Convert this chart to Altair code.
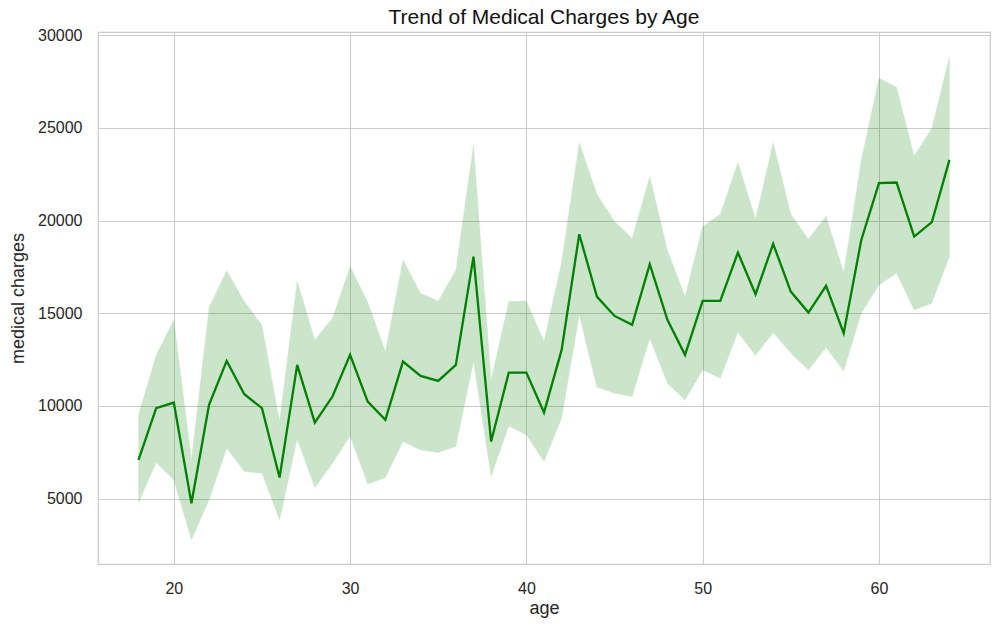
import altair as alt
import pandas as pd

ages = list(range(18, 65))
mean_charges = [7087, 9875, 10178, 4751, 10054, 12427, 10630, 9875, 6132, 12211,
                9100, 10503, 12751, 10232, 9245, 12390, 11618, 11348, 12211, 18053,
                8074, 11796, 11796, 9640, 13020, 19261, 15895, 14854, 14369, 17643,
                14640, 12751, 15663, 15663, 18269, 16025, 18738, 16165, 15032, 16473,
                13921, 18954, 22012, 22050, 19132, 19909, 23269]
ci_low = [4784, 6942, 6008, 2772, 4929, 7718, 6456, 6370, 3850, 8203,
          5594, 6909, 8381, 5776, 6132, 8074, 7626, 7481, 7805, 12390,
          6186, 8921, 8435, 6995, 9336, 14908, 11008, 10685, 10503, 13651,
          11224, 10323, 11942, 11494, 13975, 12713, 13954, 12842, 11942, 13145,
          11888, 15000, 16526, 17158, 15178, 15539, 18053]
ci_high = [9520, 12750, 14640, 7087, 15300, 17300, 15626, 14369, 9153, 16742,
           13560, 14730, 17514, 15600, 12929, 17875, 16079, 15663, 17336, 24078,
           11402, 15626, 15663, 13470, 17767, 24203, 21435, 19941, 19045, 22368,
           18414, 15895, 19671, 20340, 23124, 20070, 24203, 20340, 18991, 20248,
           17190, 23269, 27676, 27190, 23485, 24979, 28841]

df = pd.DataFrame({"age": ages, "charges": mean_charges, "low": ci_low, "high": ci_high})

FONT = "Liberation Sans"

x = alt.X("age:Q", title="age",
          scale=alt.Scale(domain=[15.7, 66.3], nice=False, zero=False),
          axis=alt.Axis(values=[20, 30, 40, 50, 60], format="d"))
y_scale = alt.Scale(domain=[1470, 30170], nice=False, zero=False)

band = alt.Chart(df).mark_area(color="green", opacity=0.2, stroke="green",
                               strokeOpacity=0.35, strokeWidth=1).encode(
    x=x,
    y=alt.Y("low:Q", title="medical charges", scale=y_scale,
            axis=alt.Axis(values=[5000, 10000, 15000, 20000, 25000, 30000], format="d")),
    y2="high:Q",
)

line = alt.Chart(df).mark_line(color="green", strokeWidth=2.3).encode(
    x=x,
    y=alt.Y("charges:Q", scale=y_scale),
)

chart = alt.layer(band, line).properties(
    width=892,
    height=532,
    title=alt.TitleParams("Trend of Medical Charges by Age", font=FONT, fontSize=21,
                          fontWeight="normal", color="#111111", offset=-1,
                          anchor="middle", frame="group"),
    autosize=alt.AutoSizeParams(type="none"),
    padding={"left": 90, "top": 24, "right": 2, "bottom": 58},
).configure_view(
    stroke="#cccccc", strokeWidth=1.25
).configure_axis(
    grid=True, gridColor="#cccccc", gridWidth=1,
    domain=False, ticks=False, tickSize=0,
    labelFont=FONT, labelFontSize=16, labelColor="#262626",
    titleFont=FONT, titleFontSize=18, titleFontWeight="normal", titleColor="#262626",
).configure_axisX(
    labelPadding=16, titlePadding=3,
).configure_axisY(
    labelPadding=16, titlePadding=10,
)

chart.save("out.html", embed_options={"renderer": "svg", "actions": False})
